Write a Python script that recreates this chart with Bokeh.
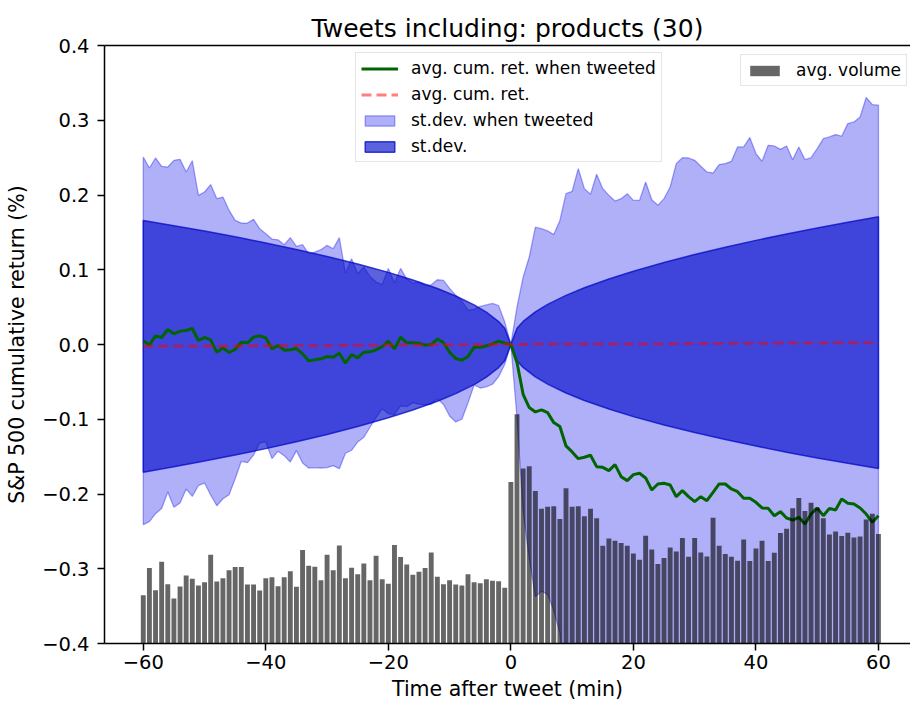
from bokeh.plotting import figure
from bokeh.models import (Range1d, LinearAxis, FixedTicker, CustomJSTickFormatter,
                          Legend, LegendItem)
from bokeh.embed import file_html
from bokeh.resources import INLINE

# ---------------- data ----------------
minutes = list(range(-60, 61))

# average cumulative return when tweeted (%), t = -60 .. 60
avg_ret_tweeted = [
    0.0049, -0.0004, 0.0116, 0.0094, 0.0201, 0.0143, 0.0179, 0.0188, 0.0214, 0.0054,
    0.0094, 0.0063, -0.0103, -0.0045, -0.0107, -0.0067, 0.0031, 0.0022, 0.0098, 0.0116,
    0.0089, -0.0058, -0.0013, -0.0076, -0.0071, -0.0054, -0.0125, -0.0219, -0.0205, -0.0192,
    -0.0161, -0.0170, -0.0116, -0.0250, -0.0134, -0.0179, -0.0103, -0.0098, -0.0071, -0.0027,
    0.0045, -0.0058, 0.0098, 0.0022, 0.0022, 0.0018, -0.0009, 0.0000, 0.0071, 0.0027,
    -0.0103, -0.0188, -0.0210, -0.0161, -0.0036, -0.0036, -0.0018, 0.0009, 0.0045, 0.0018,
    0.0000,
    -0.0240, -0.0666, -0.0844, -0.0902, -0.0875, -0.0911, -0.1045, -0.1098, -0.1357, -0.1437,
    -0.1527, -0.1509, -0.1482, -0.1634, -0.1643, -0.1687, -0.1607, -0.1768, -0.1821, -0.1741,
    -0.1723, -0.1785, -0.1946, -0.1866, -0.1857, -0.1879, -0.2036, -0.1955, -0.2036, -0.2103,
    -0.2036, -0.2089, -0.1978, -0.1866, -0.1866, -0.1933, -0.1969, -0.2058, -0.2058, -0.2112,
    -0.2187, -0.2192, -0.2290, -0.2236, -0.2321, -0.2348, -0.2312, -0.2402, -0.2268, -0.2187,
    -0.2290, -0.2192, -0.2214, -0.2067, -0.2125, -0.2134, -0.2187, -0.2268, -0.2379, -0.2290,
]

# upper edge of (avg + st.dev.) when tweeted, t = -60 .. 60
upper_tweeted = [
    0.2509, 0.2361, 0.2495, 0.2383, 0.2374, 0.2464, 0.2477, 0.2308, 0.2459, 0.1995,
    0.2040, 0.2139, 0.1951, 0.1973, 0.1795, 0.1661, 0.1625, 0.1625, 0.1674, 0.1549,
    0.1482, 0.1410, 0.1401, 0.1335, 0.1429, 0.1312, 0.1335, 0.1214, 0.1237, 0.1268,
    0.1326, 0.1281, 0.1429, 0.0955, 0.1147, 0.0946, 0.1036, 0.0911, 0.0835, 0.0804,
    0.1018, 0.0822, 0.1018, 0.0875, 0.0822, 0.0835, 0.0790, 0.0799, 0.0866, 0.0857,
    0.0750, 0.0660, 0.0580, 0.0460, 0.0470, 0.0510, 0.0530, 0.0550, 0.0520, 0.0300,
    0.0000,
    0.0500, 0.0900, 0.1170, 0.1570, 0.1550, 0.1520, 0.1470, 0.1660, 0.2018, 0.2049,
    0.2353, 0.2085, 0.2009, 0.2277, 0.2085, 0.1995, 0.1919, 0.1951, 0.2018, 0.1928,
    0.1928, 0.2174, 0.1937, 0.1862, 0.1951, 0.2107, 0.2420, 0.2500, 0.2495, 0.2464,
    0.2384, 0.2308, 0.2294, 0.2407, 0.2420, 0.2451, 0.2643, 0.2643, 0.2768, 0.2554,
    0.2451, 0.2665, 0.2656, 0.2611, 0.2656, 0.2473, 0.2643, 0.2473, 0.2500, 0.2620,
    0.2754, 0.2777, 0.2808, 0.2786, 0.2955, 0.2977, 0.3044, 0.3304, 0.3210, 0.3201,
]

# average volume (arbitrary units), t = -60 .. 60
avg_volume = [
    483, 753, 533, 817, 593, 450, 570, 680, 647, 580,
    613, 887, 620, 653, 733, 763, 763, 590, 590, 530,
    653, 663, 573, 663, 723, 567, 933, 777, 767, 633,
    887, 733, 980, 653, 757, 693, 800, 633, 877, 643,
    597, 983, 863, 790, 687, 717, 753, 910, 667, 593,
    633, 590, 580, 693, 613, 603, 643, 627, 623, 557,
    1613, 2290, 1747, 1770, 1523, 1347, 1367, 1370, 1243, 1550,
    1367, 1370, 1270, 1347, 1250, 977, 1050, 1027, 1003, 977,
    900, 837, 1077, 940, 793, 853, 960, 920, 1053, 867,
    1053, 910, 870, 1257, 977, 893, 867, 827, 1040, 823,
    950, 1027, 823, 907, 1103, 1147, 1350, 1453, 1323, 1407,
    1357, 1250, 1090, 1120, 1073, 1107, 1060, 1070, 1240, 1297, 1093,
]

# market-wide average cumulative return and st.dev. (sampled minutes)
mkt_minutes = [-60, -55, -50, -45, -40, -35, -30, -25, -20, -16, -12, -9, -6, -4, -2, -1, 0,
               1, 2, 4, 6, 9, 12, 16, 20, 25, 30, 35, 40, 45, 50, 55, 60]
avg_ret = [-0.0025, -0.0023, -0.0021, -0.0019, -0.0017, -0.0015, -0.0013, -0.0010, -0.0008,
           -0.0007, -0.0005, -0.0004, -0.0003, -0.0002, -0.0001, 0.0000, 0.0000,
           0.0000, 0.0001, 0.0002, 0.0003, 0.0004, 0.0005, 0.0007, 0.0008, 0.0010, 0.0013,
           0.0015, 0.0017, 0.0019, 0.0021, 0.0023, 0.0025]
std_ret = [0.1685, 0.1613, 0.1538, 0.1459, 0.1376, 0.1287, 0.1191, 0.1088, 0.0973,
           0.0870, 0.0754, 0.0653, 0.0533, 0.0435, 0.0308, 0.0218, 0.0000,
           0.0218, 0.0308, 0.0435, 0.0533, 0.0653, 0.0754, 0.0870, 0.0973, 0.1088, 0.1191,
           0.1287, 0.1376, 0.1459, 0.1538, 0.1613, 0.1685]

x_ticks = [-60, -40, -20, 0, 20, 40, 60]
y_ticks = [-0.4, -0.3, -0.2, -0.1, 0.0, 0.1, 0.2, 0.3, 0.4]

title_text = "Tweets including: products (30)"
x_label = "Time after tweet (min)"
y_label = "S&P 500 cumulative return (%)"

# ---------------- derived polygons ----------------
std_tw = [u - m for u, m in zip(upper_tweeted, avg_ret_tweeted)]
lower_tweeted = [m - s for m, s in zip(avg_ret_tweeted, std_tw)]
band_tw_x = minutes + minutes[::-1]
band_tw_y = upper_tweeted + lower_tweeted[::-1]

up_mkt = [m + s for m, s in zip(avg_ret, std_ret)]
lo_mkt = [m - s for m, s in zip(avg_ret, std_ret)]
band_mkt_x = mkt_minutes + mkt_minutes[::-1]
band_mkt_y = up_mkt + lo_mkt[::-1]

FONT = "DejaVu Sans"

p = figure(width=910, height=704, output_backend="svg", toolbar_location=None,
           x_range=Range1d(-66.33, 65.23), y_range=Range1d(-0.4, 0.4),
           min_border_left=104, min_border_right=0, min_border_top=45,
           min_border_bottom=61, background_fill_color="white",
           border_fill_color="white")
p.extra_y_ranges = {"vol": Range1d(0, 5974)}
p.outline_line_color = None
p.xgrid.visible = False
p.ygrid.visible = False

p.title.text = title_text
p.title.align = "center"
p.title.text_font = FONT
p.title.text_font_size = "25px"
p.title.text_font_style = "normal"
p.title.text_color = "black"
p.title.standoff = 6

# light band (st.dev. when tweeted)
r_band_tw = p.patch(band_tw_x, band_tw_y, fill_color=(0, 0, 235), fill_alpha=0.31,
                    line_color=(0, 0, 235), line_alpha=0.35, line_width=1.3)
# dark band (st.dev.)
r_band = p.patch(band_mkt_x, band_mkt_y, fill_color=(0, 10, 200), fill_alpha=0.64,
                 line_color=(0, 10, 200), line_alpha=0.75, line_width=1.5)

r_green = p.line(minutes, avg_ret_tweeted, line_color="darkgreen", line_width=3)
r_red = p.line(mkt_minutes, avg_ret, line_color="red", line_alpha=0.5,
               line_width=3, line_dash="10 5")

r_vol = p.vbar(x=minutes, top=avg_volume, bottom=0, width=0.8, y_range_name="vol",
               fill_color="black", fill_alpha=0.6, line_color=None)

# axes styling
for ax in (p.xaxis[0], p.yaxis[0]):
    ax.axis_line_width = 1.5
    ax.axis_line_color = "black"
    ax.major_tick_line_width = 1.5
    ax.major_tick_line_color = "black"
    ax.major_tick_out = 7
    ax.major_tick_in = 0
    ax.minor_tick_line_color = None
    ax.major_label_text_font = FONT
    ax.major_label_text_font_size = "19.5px"
    ax.major_label_text_color = "black"
    ax.axis_label_text_font = FONT
    ax.axis_label_text_font_size = "20.5px"
    ax.axis_label_text_font_style = "normal"
    ax.axis_label_text_color = "black"

p.xaxis[0].ticker = FixedTicker(ticks=x_ticks)
p.yaxis[0].ticker = FixedTicker(ticks=y_ticks)
p.xaxis[0].formatter = CustomJSTickFormatter(
    code="return (tick < 0 ? '\u2212' : '') + Math.abs(tick).toFixed(0);")
p.yaxis[0].formatter = CustomJSTickFormatter(
    code="var v = Math.abs(tick) < 1e-9 ? 0 : tick; return (v < 0 ? '\u2212' : '') + Math.abs(v).toFixed(1);")
p.xaxis[0].axis_label = x_label
p.yaxis[0].axis_label = y_label
p.xaxis[0].major_label_standoff = 4
p.yaxis[0].major_label_standoff = 8
p.xaxis[0].axis_label_standoff = 5
p.yaxis[0].axis_label_standoff = 10

top_axis = LinearAxis(ticker=FixedTicker(ticks=[]), axis_line_width=1.5,
                      axis_line_color="black", major_tick_line_color=None,
                      minor_tick_line_color=None, major_label_text_font_size="0px")
p.add_layout(top_axis, "above")

def style_legend(leg):
    leg.label_text_font = FONT
    leg.label_text_font_size = "17px"
    leg.label_text_color = "black"
    leg.glyph_width = 37
    leg.glyph_height = 13
    leg.label_height = 13
    leg.label_standoff = 13
    leg.spacing = 6
    leg.padding = 5
    leg.margin = 0
    leg.border_line_color = "#cccccc"
    leg.border_line_width = 1
    leg.background_fill_color = "white"
    leg.background_fill_alpha = 0.8

leg1 = Legend(items=[
    LegendItem(label="avg. cum. ret. when tweeted", renderers=[r_green]),
    LegendItem(label="avg. cum. ret.", renderers=[r_red]),
    LegendItem(label="st.dev. when tweeted", renderers=[r_band_tw]),
    LegendItem(label="st.dev.", renderers=[r_band]),
], location=(251, 481))
style_legend(leg1)
p.add_layout(leg1)

leg2 = Legend(items=[LegendItem(label="avg. volume", renderers=[r_vol])],
              location=(636, 557))
style_legend(leg2)
p.add_layout(leg2)

open("out.html", "w").write(file_html(p, INLINE))
